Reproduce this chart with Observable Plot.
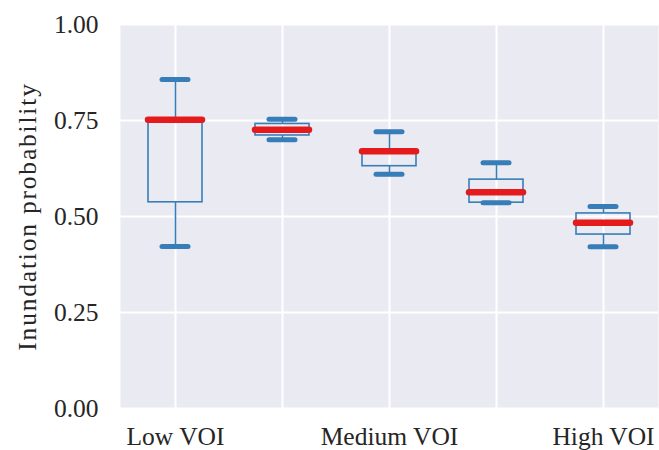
<!DOCTYPE html>
<html>
<head>
<meta charset="utf-8">
<script src="https://cdn.jsdelivr.net/npm/d3@7"></script>
<script src="https://cdn.jsdelivr.net/npm/@observablehq/plot@0.6"></script>
<style>
  html, body { margin: 0; padding: 0; background: #ffffff; }
  svg { display: block; }
</style>
</head>
<body>
<div id="chart"></div>
<script>
// Categories (box positions) and their tick labels
const positions = [1, 2, 3, 4, 5];
const tickPositions = [1, 3, 5];
const tickLabels = ["Low VOI", "Medium VOI", "High VOI"];
// Box-plot statistics
const whiskerLow  = [0.422, 0.700, 0.610, 0.536, 0.421];
const q1          = [0.537, 0.711, 0.631, 0.536, 0.453];
const median      = [0.752, 0.726, 0.670, 0.563, 0.484];
const q3          = [0.755, 0.741, 0.672, 0.596, 0.508];
const whiskerHigh = [0.857, 0.753, 0.721, 0.640, 0.526];
const yTicks = [0, 0.25, 0.5, 0.75, 1];

const data = positions.map((p, i) => ({
  pos: p, lo: whiskerLow[i], q1: q1[i], med: median[i], q3: q3[i], hi: whiskerHigh[i]
}));

const blue = "#377eb8";
const red = "#e41a1c";

const chart = Plot.plot({
  width: 659,
  height: 450,
  marginTop: 24,
  marginBottom: 42,
  marginLeft: 120,
  marginRight: 1,
  style: { fontFamily: "'Liberation Serif', serif", fontSize: "25.5px", color: "#262626", background: "#ffffff" },
  x: { type: "band", domain: positions, paddingInner: 0.5, paddingOuter: 0.25, align: 0.5 },
  y: { domain: [0, 1] },
  marks: [
    Plot.frame({ fill: "#eaeaf2", stroke: null }),
    Plot.gridY(yTicks, { stroke: "#ffffff", strokeOpacity: 1, strokeWidth: 2 }),
    Plot.gridX(positions, { stroke: "#ffffff", strokeOpacity: 1, strokeWidth: 2 }),
    Plot.axisY(yTicks, { tickSize: 0, tickPadding: 22, tickFormat: d3.format(".2f"),
      label: "Inundation probability", labelAnchor: "center", labelArrow: "none", labelOffset: 103 }),
    Plot.axisX(tickPositions, { tickSize: 0, tickPadding: 18, label: null,
      tickFormat: (d) => tickLabels[tickPositions.indexOf(d)] }),
    // whiskers
    Plot.ruleX(data, { x: "pos", y1: "lo", y2: "q1", stroke: blue, strokeWidth: 1.6 }),
    Plot.ruleX(data, { x: "pos", y1: "q3", y2: "hi", stroke: blue, strokeWidth: 1.6 }),
    // boxes
    Plot.barY(data, { x: "pos", y1: "q1", y2: "q3", fill: "none", stroke: blue, strokeWidth: 1.6 }),
    // whisker caps
    Plot.tickY(data, { x: "pos", y: "lo", stroke: blue, strokeWidth: 5, strokeLinecap: "round", insetLeft: 14, insetRight: 14 }),
    Plot.tickY(data, { x: "pos", y: "hi", stroke: blue, strokeWidth: 5, strokeLinecap: "round", insetLeft: 14, insetRight: 14 }),
    // medians
    Plot.tickY(data, { x: "pos", y: "med", stroke: red, strokeWidth: 6.5, strokeLinecap: "round" })
  ]
});
// widen the y-axis title a little to match the reference's serif face
d3.select(chart).selectAll('g[aria-label="y-axis label"] text').attr("letter-spacing", "1.8px");
document.getElementById("chart").appendChild(chart);
</script>
</body>
</html>
